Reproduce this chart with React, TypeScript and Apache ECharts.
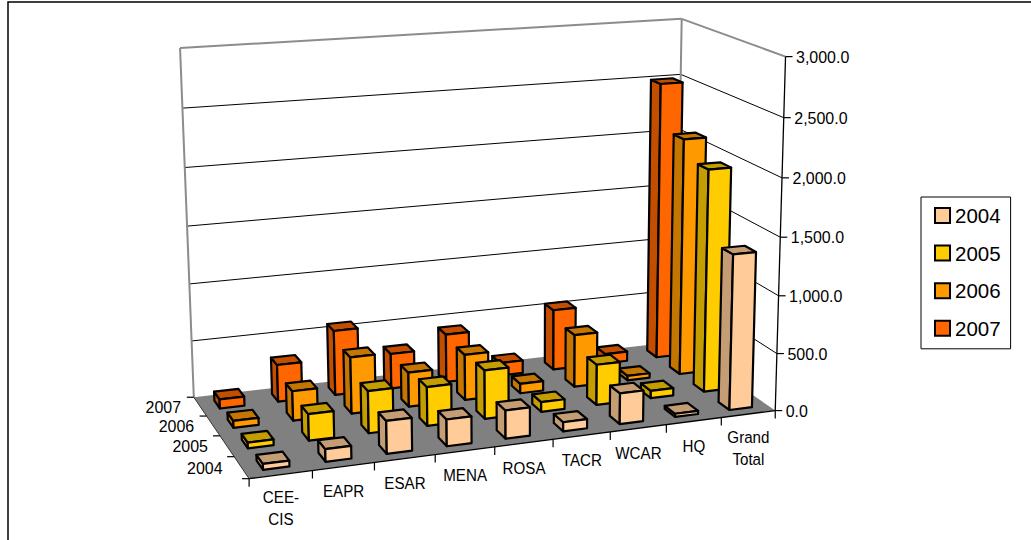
import React, { useEffect, useRef } from "react";
import * as echarts from "echarts";

const categories = ["CEE-\nCIS", "EAPR", "ESAR", "MENA", "ROSA", "TACR", "WCAR", "HQ", "Grand\nTotal"];
const years = ["2004", "2005", "2006", "2007"];
const values2004 = [48, 105, 275, 225, 240, 78, 265, 28, 1350];
const values2005 = [48, 225, 360, 335, 420, 85, 355, 65, 1955];
const values2006 = [60, 255, 490, 300, 400, 85, 465, 40, 2110];
const values2007 = [80, 325, 570, 310, 430, 115, 545, 85, 2500];
const valueTicks = [0, 500, 1000, 1500, 2000, 2500, 3000];
const valueTickLabels = ["0.0", "500.0", "1,000.0", "1,500.0", "2,000.0", "2,500.0", "3,000.0"];

const seriesValues = [values2004, values2005, values2006, values2007];
const faceColors = ["#FFCC99", "#FFCC00", "#FF9900", "#FF6600"];
const sideColors = ["#C49D75", "#C49D00", "#C47600", "#C44E00"];
const FONT = "Liberation Sans";
const AXIS_MAX = 3000;

// Calibration of the box's perspective: [u, v, w, screenX, screenY]
const calibration: number[][] = [
  [0, 0, 0, 249, 480],
  [1, 0, 0, 772, 409],
  [0, 1, 0, 193, 396],
  [1, 1, 0, 680, 343],
  [0, 1, 1, 181, 48],
  [1, 1, 1, 680, 18],
  [1, 1, 1, 680, 18],
  [1, 1, 0.8333, 680, 76],
  [1, 0, 1, 789, 57],
];

function solveCamera(): number[] {
  const n = 11;
  const A: number[][] = Array.from({ length: n }, () => new Array(n + 1).fill(0));
  const add = (row: number[], rhs: number) => {
    for (let i = 0; i < n; i++) {
      for (let j = 0; j < n; j++) A[i][j] += row[i] * row[j];
      A[i][n] += row[i] * rhs;
    }
  };
  for (const [u, v, w, x, y] of calibration) {
    add([u, v, w, 1, 0, 0, 0, 0, -x * u, -x * v, -x * w], x);
    add([0, 0, 0, 0, u, v, w, 1, -y * u, -y * v, -y * w], y);
  }
  for (let i = 0; i < n; i++) {
    let p = i;
    for (let r = i + 1; r < n; r++) if (Math.abs(A[r][i]) > Math.abs(A[p][i])) p = r;
    [A[i], A[p]] = [A[p], A[i]];
    for (let r = 0; r < n; r++) {
      if (r === i) continue;
      const f = A[r][i] / A[i][i];
      for (let c = i; c <= n; c++) A[r][c] -= f * A[i][c];
    }
  }
  return A.map((row, i) => row[n] / row[i]);
}

const cam = solveCamera();
const project = (u: number, v: number, w: number): number[] => {
  const d = cam[8] * u + cam[9] * v + cam[10] * w + 1;
  return [
    (cam[0] * u + cam[1] * v + cam[2] * w + cam[3]) / d,
    (cam[4] * u + cam[5] * v + cam[6] * w + cam[7]) / d,
  ];
};

const BAR_FRACTION = 0.42;
const GRID = { left: 100, top: 100, width: 800, height: 300 };

function makeRenderItem(rowIndex: number) {
  return (_params: any, api: any) => {
    const catIndex = api.value(0);
    const a = api.coord([catIndex, api.value(1)]);
    const u = (a[0] - GRID.left) / GRID.width;
    const w = 1 - (a[1] - GRID.top) / GRID.height;
    const halfU = (BAR_FRACTION / categories.length) / 2;
    const vc = (rowIndex + 0.5) / years.length;
    const halfV = (BAR_FRACTION / years.length) / 2;
    const u0 = u - halfU, u1 = u + halfU, v0 = vc - halfV, v1 = vc + halfV;
    const z2 = (years.length - rowIndex) * 100 + (categories.length - catIndex);
    const face = (pts: number[][], fill: string, order: number) => ({
      type: "polygon",
      z2: z2 * 10 + order,
      shape: { points: pts },
      style: { fill, stroke: "#000", lineWidth: 2.2, lineJoin: "round" },
    });
    return {
      type: "group",
      children: [
        face([project(u0, v0, 0), project(u0, v1, 0), project(u0, v1, w), project(u0, v0, w)], sideColors[rowIndex], 0),
        face([project(u0, v0, w), project(u0, v1, w), project(u1, v1, w), project(u1, v0, w)], sideColors[rowIndex], 1),
        face([project(u0, v0, 0), project(u1, v0, 0), project(u1, v0, w), project(u0, v0, w)], faceColors[rowIndex], 2),
      ],
    };
  };
}

function buildGraphics(): any[] {
  const out: any[] = [];
  const poly = (pts: number[][], fill: string) =>
    out.push({ type: "polygon", shape: { points: pts }, style: { fill, stroke: "none" } });
  const line = (p: number[], q: number[], stroke: string, lineWidth: number) =>
    out.push({
      type: "line",
      shape: { x1: p[0], y1: p[1], x2: q[0], y2: q[1] },
      style: { stroke, lineWidth },
    });
  const LABEL_SIZE = 16.3;
  const text = (t: string, x: number, y: number, align: string, scaleX: number, lineHeight?: number) =>
    out.push({
      type: "text",
      x,
      y,
      scaleX,
      style: {
        text: t,
        fill: "#000",
        fontFamily: FONT,
        fontSize: LABEL_SIZE,
        align,
        verticalAlign: "middle",
        lineHeight: lineHeight ?? LABEL_SIZE + 6,
      },
    });

  // chart frame
  out.push({
    type: "rect",
    shape: { x: 8, y: 2, width: 1060, height: 600 },
    style: { fill: "#fff", stroke: "#000", lineWidth: 1.5 },
  });

  // floor
  poly([project(0, 0, 0), project(1, 0, 0), project(1, 1, 0), project(0, 1, 0)], "#808080");

  // grid lines on back and side walls
  valueTicks.forEach((t) => {
    if (t === 0 || t === AXIS_MAX) return;
    const w = t / AXIS_MAX;
    line(project(0, 1, w), project(1, 1, w), "#000", 1);
    line(project(1, 1, w), project(1, 0, w), "#000", 1);
  });

  // wall outline
  line(project(0, 1, 0), project(0, 1, 1), "#8C8C8C", 2);
  line(project(0, 1, 1), project(1, 1, 1), "#8C8C8C", 2);
  line(project(1, 1, 1), project(1, 1, 0), "#8C8C8C", 2);
  line(project(1, 1, 1), project(1, 0, 1), "#8C8C8C", 2);

  // value axis
  line(project(1, 0, 0), project(1, 0, 1), "#000", 1.3);
  valueTicks.forEach((t, i) => {
    const p = project(1, 0, t / AXIS_MAX);
    line(p, [p[0] + 7, p[1]], "#000", 1.2);
    text(valueTickLabels[i], p[0] + 10.5, p[1], "left", 0.98);
  });

  // category axis
  line(project(0, 0, 0), project(1, 0, 0), "#000", 1.3);
  for (let i = 0; i <= categories.length; i++) {
    const p = project(i / categories.length, 0, 0);
    line(p, [p[0], p[1] + 8], "#000", 1.2);
  }
  categories.forEach((c, i) => {
    const p = project((i + 0.5) / categories.length, 0, 0);
    const multi = c.includes("\n");
    text(c, p[0], p[1] + (multi ? 34 : 25), "center", 0.93, 22);
  });

  // depth axis
  line(project(0, 0, 0), project(0, 1, 0), "#333", 1);
  for (let i = 0; i <= years.length; i++) {
    const p = project(0, i / years.length, 0);
    line(p, [p[0] - 7, p[1]], "#000", 1.2);
  }
  years.forEach((y, i) => {
    const p = project(0, (i + 0.5) / years.length, 0);
    text(y, p[0] - 19, p[1], "right", 0.98);
  });

  return out;
}

export default function App() {
  const ref = useRef<HTMLDivElement>(null);
  useEffect(() => {
    if (!ref.current) return;
    const chart = echarts.init(ref.current, undefined, { renderer: "svg" });
    chart.setOption({
      animation: false,
      backgroundColor: "#fff",
      grid: GRID,
      xAxis: { type: "category", data: categories, show: false },
      yAxis: { type: "value", min: 0, max: AXIS_MAX, interval: 500, show: false },
      legend: {
        orient: "vertical",
        left: 921,
        top: 197,
        data: years,
        icon: "rect",
        itemWidth: 15,
        itemHeight: 15,
        itemGap: 16.6,
        padding: [8, 10, 10, 13],
        borderColor: "#000",
        borderWidth: 1,
        selectedMode: false,
        textStyle: { fontFamily: FONT, fontSize: 20.5, color: "#000" },
      },
      graphic: { elements: buildGraphics() },
      series: years.map((y, i) => ({
        name: y,
        type: "custom",
        coordinateSystem: "cartesian2d",
        clip: false,
        renderItem: makeRenderItem(i),
        itemStyle: { color: faceColors[i], borderColor: "#000", borderWidth: 1.5 },
        encode: { x: 0, y: 1 },
        data: seriesValues[i].map((v, c) => [c, v]),
      })),
    });
    return () => chart.dispose();
  }, []);
  return <div ref={ref} style={{ position: "absolute", left: 0, top: 0, width: 1031, height: 540 }} />;
}
